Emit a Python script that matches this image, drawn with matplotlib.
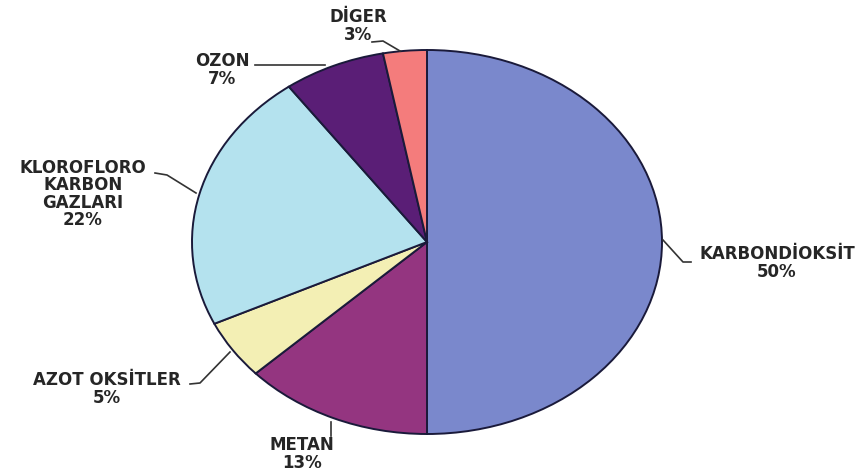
import matplotlib

matplotlib.use("Agg")
import matplotlib.pyplot as plt
from matplotlib.lines import Line2D

labels = ["KARBONDİOKSİT", "METAN", "AZOT OKSİTLER", "KLOROFLORO\nKARBON\nGAZLARI", "OZON", "DİGER"]
shares = [50, 13, 5, 22, 7, 3]
colors = ["#7a88cc", "#943580", "#f3efb4", "#b4e2ee", "#5a1e76", "#f47c7c"]

W, H = 867, 475
CX, CY, RX, RY = 427, 242, 235, 192

fig = plt.figure(figsize=(W / 100, H / 100), dpi=100)
ax = fig.add_axes([(CX - RX) / W, (H - CY - RY) / H, 2 * RX / W, 2 * RY / H])
ax.pie(shares, colors=colors, startangle=90, counterclock=False,
       wedgeprops=dict(edgecolor="#1a1a3a", linewidth=1.4))
ax.set_aspect("auto")
ax.set_xlim(-1, 1)
ax.set_ylim(-1, 1)


def px(x, y):
    return x / W, 1 - y / H


# label text placement (pixel centres) and leader-line paths
text_pos = [(777, 263), (302, 454), (107, 389), (83, 194), (222, 70), (358, 26)]
leaders = [
    [(663, 240), (683, 262), (691, 262)],
    [(331, 422), (331, 436)],
    [(190, 384), (200, 383), (230, 352)],
    [(155, 173), (167, 175), (196, 193)],
    [(255, 65), (325, 65)],
    [(372, 42), (383, 41), (400, 51)],
]

for lab, s, pos, path in zip(labels, shares, text_pos, leaders):
    fig.text(*px(*pos), f"{lab}\n{s}%", ha="center", va="center",
             fontsize=12, fontweight="bold", color="#262626",
             linespacing=0.95, family="DejaVu Sans")
    xs, ys = zip(*[px(*p) for p in path])
    fig.add_artist(Line2D(xs, ys, color="#333333", linewidth=1.2))

fig.savefig("out.png", dpi=100)
